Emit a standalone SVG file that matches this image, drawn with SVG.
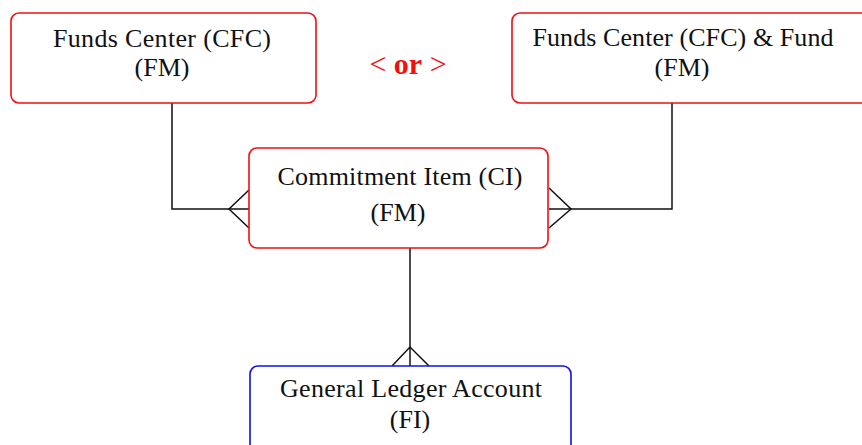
<svg xmlns="http://www.w3.org/2000/svg" width="862" height="445" viewBox="0 0 862 445">
<style>
.box{fill:#fff;stroke-width:1.6}
.red{stroke:#f01010}
.blue{stroke:#1010e8}
.t{font-family:"Liberation Serif","Times New Roman",serif;font-size:26px;fill:#111;text-anchor:middle}
.ln{fill:none;stroke:#111;stroke-width:1.5}
.or{font-family:"Liberation Serif","Times New Roman",serif;font-size:30px;fill:#f01010;text-anchor:middle}
</style>
<rect width="862" height="445" fill="#fff"/>
<g id="connectors">
<polyline class="ln" points="172,103 172,209 249,209"/>
<polyline class="ln" points="249,190 229,209 249,228"/>
<polyline class="ln" points="672,103 672,209 549,209"/>
<polyline class="ln" points="549,188 571,209 549,228"/>
<line class="ln" x1="410" y1="248" x2="410" y2="366"/>
<polyline class="ln" points="392,366 410,347 429,366"/>
</g>
<g id="funds-center">
<rect class="box red" x="11" y="13" width="305" height="90" rx="8"/>
<text class="t" x="162" y="47" textLength="218" lengthAdjust="spacing">Funds Center (CFC)</text>
<text class="t" x="162" y="76">(FM)</text>
</g>
<g id="or-label">
<text class="or" x="408" y="74"><tspan>&lt; </tspan><tspan font-weight="bold">or</tspan><tspan> &gt;</tspan></text>
</g>
<g id="funds-center-fund">
<rect class="box red" x="512" y="13" width="360" height="90" rx="8"/>
<text class="t" x="683" y="46" textLength="301" lengthAdjust="spacing">Funds Center (CFC) &amp; Fund</text>
<text class="t" x="682" y="76">(FM)</text>
</g>
<g id="commitment-item">
<rect class="box red" x="249" y="148" width="299" height="100" rx="8"/>
<text class="t" x="400" y="185" textLength="245" lengthAdjust="spacing">Commitment Item (CI)</text>
<text class="t" x="398" y="221">(FM)</text>
</g>
<g id="gl-account">
<rect class="box blue" x="250" y="366" width="321" height="95" rx="8"/>
<text class="t" x="411" y="397" textLength="262" lengthAdjust="spacing">General Ledger Account</text>
<text class="t" x="410" y="428">(FI)</text>
</g>
</svg>
